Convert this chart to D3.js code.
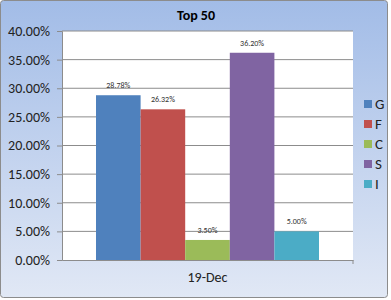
<!DOCTYPE html>
<html>
<head>
<meta charset="utf-8">
<script src="https://cdn.jsdelivr.net/npm/d3@7"></script>
<style>
  body { margin: 0; background: #fff; }
  text { font-family: Calibri, Carlito, "Liberation Sans", sans-serif; }
</style>
</head>
<body>
<div class="module"></div>
<script>
const categories = ["19-Dec"];
const seriesNames = ["G", "F", "C", "S", "I"];
const seriesValues = [28.78, 26.32, 3.50, 36.20, 5.00];
const seriesColors = ["#4f81bd", "#c0504d", "#9bbb59", "#8064a2", "#4bacc6"];
const yTicks = [0, 5, 10, 15, 20, 25, 30, 35, 40];

drawChart(d3.select('.module').node());

function drawChart(rootDOM) {
	const W = 391;
	const H = 300;
	const m = {left: 62, right: 38, top: 31, bottom: 40};

	const svg = d3.select(rootDOM)
		.append('svg')
		.attr('width', W)
		.attr('height', H);

	// background gradient
	const grad = svg.append('defs').append('linearGradient')
		.attr('id', 'bg')
		.attr('x1', 0).attr('y1', 0).attr('x2', 0).attr('y2', 1);
	grad.append('stop').attr('offset', '0%').attr('stop-color', '#a2bce7');
	grad.append('stop').attr('offset', '100%').attr('stop-color', '#e1e8f5');

	svg.append('rect')
		.attr('x', 0.5).attr('y', 0.5)
		.attr('width', W - 4).attr('height', H - 3)
		.attr('rx', 3)
		.style('fill', 'url(#bg)')
		.style('stroke', '#8c8c8c');

	svg.append('text')
		.attr('x', 196).attr('y', 20)
		.attr('text-anchor', 'middle')
		.style('font-weight', 'bold')
		.style('font-size', '14px')
		.text('Top 50');

	const x = d3.scaleBand()
		.domain(categories)
		.range([m.left, W - m.right]);
	const xs = d3.scaleBand()
		.domain(seriesNames)
		.range([34, x.bandwidth() - 34]);
	const y = d3.scaleLinear()
		.domain([0, 40])
		.range([H - m.bottom, m.top]);

	const plot = svg.append('g');

	plot.append('rect')
		.attr('x', m.left).attr('y', m.top)
		.attr('width', W - m.left - m.right)
		.attr('height', H - m.top - m.bottom)
		.style('fill', '#fff');

	// gridlines
	plot.append('g')
		.selectAll('line')
		.data(yTicks.slice(1))
		.enter().append('line')
		.attr('x1', m.left).attr('x2', W - m.right)
		.attr('y1', d => y(d)).attr('y2', d => y(d))
		.style('stroke', '#8c8c8c')
		.style('stroke-width', 1);

	const yAxis = plot.append('g')
		.attr('transform', `translate(${m.left},0)`)
		.call(d3.axisLeft(y).tickValues(yTicks).tickSize(5).tickPadding(7)
			.tickFormat(d => d.toFixed(2) + '%'));
	yAxis.select('.domain').style('stroke', '#8c8c8c');
	yAxis.selectAll('line').style('stroke', '#8c8c8c');
	yAxis.selectAll('text').style('font-size', '14px').style('fill', '#222');

	const xAxis = plot.append('g')
		.attr('transform', `translate(0,${H - m.bottom})`)
		.call(d3.axisBottom(x).tickSize(0).tickPadding(12));
	xAxis.select('.domain').style('stroke', '#8c8c8c');
	xAxis.selectAll('text').style('font-size', '14px').style('fill', '#222');
	xAxis.append('line')
		.attr('x1', W - m.right).attr('x2', W - m.right)
		.attr('y1', 0).attr('y2', 4)
		.style('stroke', '#8c8c8c');

	const bars = plot.selectAll('.bar')
		.data(seriesNames.map((n, i) => ({name: n, value: seriesValues[i], color: seriesColors[i]})))
		.enter().append('g')
		.attr('class', 'bar')
		.attr('transform', `translate(${x(categories[0])},0)`);

	bars.append('rect')
		.attr('x', d => xs(d.name))
		.attr('y', d => y(d.value))
		.attr('width', xs.bandwidth())
		.attr('height', d => y(0) - y(d.value))
		.style('fill', d => d.color);

	bars.append('text')
		.attr('x', d => xs(d.name) + xs.bandwidth() / 2)
		.attr('y', d => y(d.value) - 7)
		.attr('text-anchor', 'middle')
		.style('font-size', '8px')
		.style('fill', '#333')
		.text(d => d.value.toFixed(2) + '%');

	// legend
	const legend = svg.append('g')
		.selectAll('g')
		.data(seriesNames)
		.enter().append('g')
		.attr('transform', (d, i) => `translate(364,${104 + i * 20})`);
	legend.append('rect')
		.attr('x', 0).attr('y', -4)
		.attr('width', 8).attr('height', 8)
		.style('fill', (d, i) => seriesColors[i]);
	legend.append('text')
		.attr('x', 11).attr('y', 5)
		.style('font-size', '15px')
		.style('fill', '#222')
		.text(d => d);
}
</script>
</body>
</html>
